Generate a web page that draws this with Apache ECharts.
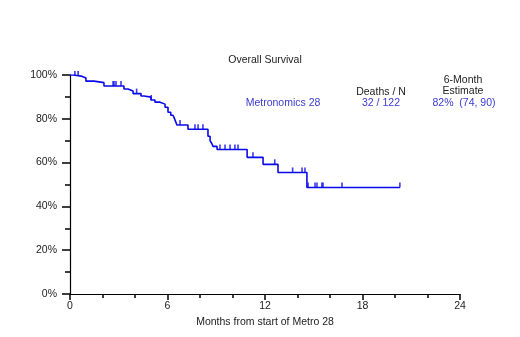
<!DOCTYPE html>
<html>
<head>
<meta charset="utf-8">
<script src="https://cdn.jsdelivr.net/npm/echarts@6/dist/echarts.min.js"></script>
<style>
  html, body { margin: 0; padding: 0; background: #fff; }
  #chart { width: 520px; height: 337px; }
</style>
</head>
<body>
<div id="chart"></div>
<script>
// KM steps: time in months, survival in %
const stepMonths = [0, 0.06, 0.25, 0.68, 0.98, 1.48, 2.09, 3.32, 3.57, 3.88, 4.37, 4.55, 4.98, 5.23, 5.54, 5.85,
  6.03, 6.2, 6.34, 6.46, 6.58, 7.26, 8.49, 8.62, 8.74, 8.8, 9.05, 10.9, 11.88, 12.8, 14.58, 20.3];
const stepSurvival = [100, 100, 99.5, 98.6, 97.2, 96.5, 95, 93.6, 92.7, 91.5, 90.4, 89.9, 88.6, 87.6, 86.7, 85.3,
  83, 81.6, 80.7, 79.5, 77.2, 75.2, 72, 70, 68.5, 67.4, 66, 62.4, 59.2, 55.5, 48.6, 48.6];
// censored patients (tick marks)
const censorMonths = [0.3, 0.5, 2.65, 2.71, 2.83, 3.14, 4.1, 5.0, 6.77, 7.69, 7.88, 8.18, 9.23, 9.54, 9.85, 10.15, 10.34,
  11.26, 12.6, 13.7, 14.28, 14.46, 14.65, 15.08, 15.2, 15.5, 15.57, 16.74, 20.3];
const xTicks = [0, 6, 12, 18, 24];
const yTicks = [0, 20, 40, 60, 80, 100];

const lineColor = '#0a0ae6';
const textBlue = '#3a3ad0';
const font = '10.5px Liberation Sans';

const survivalAt = t => {
  let s = stepSurvival[0];
  for (let i = 0; i < stepMonths.length; i++) {
    if (stepMonths[i] <= t) s = stepSurvival[i];
  }
  return s;
};

const curve = stepMonths.map((t, i) => [t, stepSurvival[i]]);
const censors = censorMonths.map(t => [t, survivalAt(t)]);

const label = (x, y, text, fill) => ({
  type: 'text',
  x,
  y,
  style: { text, fill, font, align: 'center', verticalAlign: 'middle' },
});

const chart = echarts.init(document.getElementById('chart'));

const option = {
  backgroundColor: '#fff',
  animation: false,
  textStyle: { fontFamily: 'Liberation Sans, Arial, sans-serif' },
  grid: { left: 70, right: 60, top: 75, bottom: 43 },
  xAxis: {
    type: 'value',
    min: xTicks[0],
    max: xTicks[xTicks.length - 1],
    interval: 6,
    name: 'Months from start of Metro 28',
    nameLocation: 'middle',
    nameGap: 21,
    nameTextStyle: { color: '#222', fontSize: 10.5 },
    axisLine: { lineStyle: { color: '#000', width: 1.2 } },
    axisTick: { show: true, length: 6, lineStyle: { color: '#000', width: 1.5 } },
    minorTick: { show: true, splitNumber: 3, length: 4, lineStyle: { color: '#000', width: 1.5 } },
    axisLabel: { color: '#222', fontSize: 10.5, margin: 7 },
    splitLine: { show: false },
    minorSplitLine: { show: false },
  },
  yAxis: {
    type: 'value',
    min: yTicks[0],
    max: yTicks[yTicks.length - 1],
    interval: 20,
    axisLine: { show: true, lineStyle: { color: '#000', width: 1.2 } },
    axisTick: { show: true, length: 8, lineStyle: { color: '#000', width: 1.5 } },
    minorTick: { show: true, splitNumber: 2, length: 5, lineStyle: { color: '#000', width: 1.5 } },
    axisLabel: { color: '#222', fontSize: 10.5, margin: 13, formatter: '{value}%' },
    splitLine: { show: false },
    minorSplitLine: { show: false },
  },
  graphic: [
    label(265, 60, 'Overall Survival', '#222'),
    label(283, 103, 'Metronomics 28', textBlue),
    label(381, 92, 'Deaths / N', '#222'),
    label(381, 103, '32 / 122', textBlue),
    label(463, 80, '6-Month', '#222'),
    label(463, 91, 'Estimate', '#222'),
    label(464, 103, '82%  (74, 90)', textBlue),
  ],
  series: [
    {
      name: 'Metronomics 28',
      type: 'line',
      step: 'end',
      data: curve,
      showSymbol: false,
      lineStyle: { color: lineColor, width: 1.6 },
      z: 3,
    },
    {
      name: 'censored',
      type: 'scatter',
      data: censors,
      symbol: 'rect',
      symbolSize: [1.6, 5],
      symbolOffset: [0, -2.5],
      itemStyle: { color: lineColor },
      z: 4,
    },
  ],
};

chart.setOption(option);
</script>
</body>
</html>
